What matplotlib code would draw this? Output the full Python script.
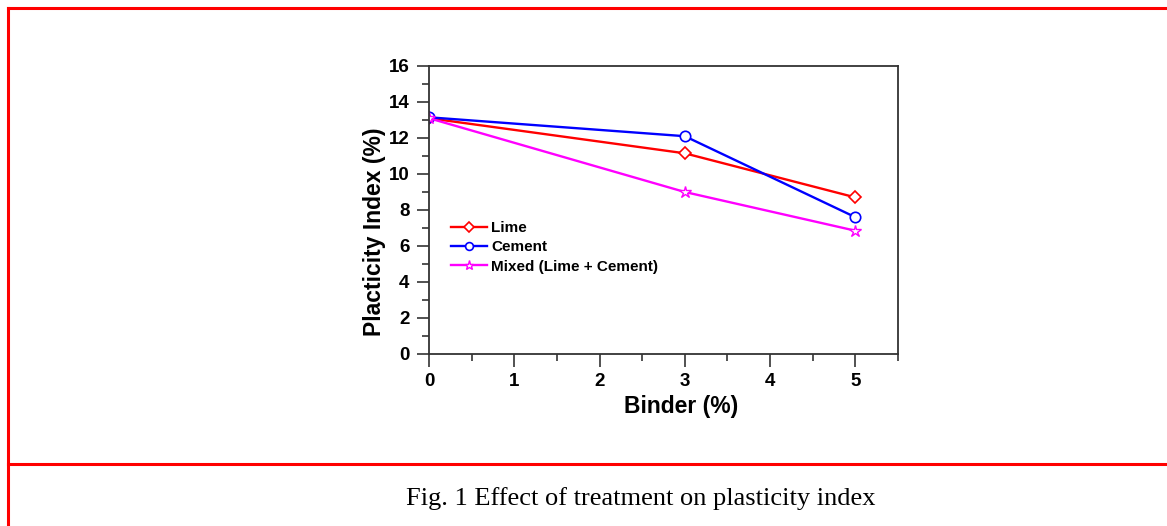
import matplotlib.pyplot as plt
from matplotlib.lines import Line2D
from matplotlib.ticker import MultipleLocator

binder = [0, 3, 5]
lime = [13.1, 11.15, 8.7]
cement = [13.15, 12.1, 7.6]
mixed = [13.1, 9.0, 6.85]
series_names = ["Lime", "Cement", "Mixed (Lime + Cement)"]
caption = "Fig. 1 Effect of treatment on plasticity index"

plt.rcParams["font.family"] = ["Liberation Sans", "DejaVu Sans"]
plt.rcParams["font.weight"] = "bold"

fig = plt.figure(figsize=(11.67, 5.26), dpi=100)

# red frame of the page
frame_kw = dict(color="#ff0000", lw=2.2, transform=fig.transFigure, clip_on=False)
fig.add_artist(Line2D([7.5 / 1167, 1.0], [1 - 7.5 / 526] * 2, **frame_kw))
fig.add_artist(Line2D([7.5 / 1167] * 2, [0.0, 1 - 7.5 / 526], **frame_kw))
fig.add_artist(Line2D([7.5 / 1167, 1.0], [1 - 464 / 526] * 2, **frame_kw))

ax = fig.add_axes([429 / 1167, 1 - 354 / 526, (898 - 429) / 1167, (354 - 66) / 526])

ax.plot(binder, lime, color="#ff0000", lw=1.7, marker="D", ms=6.5,
        mfc="white", mec="#ff0000", mew=1.2, label=series_names[0])
ax.plot(binder, cement, color="#0000ff", lw=1.7, marker="o", ms=7.5,
        mfc="white", mec="#0000ff", mew=1.2, label=series_names[1])
ax.plot(binder, mixed, color="#ff00ff", lw=1.7, marker="*", ms=9,
        mfc="white", mec="#ff00ff", mew=1.0, label=series_names[2])

ax.set_xlim(0, 5.5)
ax.set_ylim(0, 16)
ax.xaxis.set_major_locator(MultipleLocator(1))
ax.xaxis.set_minor_locator(MultipleLocator(0.5))
ax.yaxis.set_major_locator(MultipleLocator(2))
ax.yaxis.set_minor_locator(MultipleLocator(1))
ax.set_xticks([0, 1, 2, 3, 4, 5])

for s in ax.spines.values():
    s.set_color("#333333")
    s.set_linewidth(1.3)
ax.tick_params(which="major", direction="out", length=9, width=1.2,
               color="#333333", labelsize=13.5, pad=5)
ax.tick_params(which="minor", direction="out", length=5, width=1.2,
               color="#333333")
for lab in ax.get_xticklabels() + ax.get_yticklabels():
    lab.set_fontweight("bold")

ax.set_xlabel("Binder (%)", fontsize=16.5, fontweight="bold")
ax.set_ylabel("Placticity Index (%)", fontsize=16.5, fontweight="bold")
ax.xaxis.set_label_coords(0.537, -0.143)
ax.yaxis.set_label_coords(-0.091, 0.424)

leg = ax.legend(loc="upper left", bbox_to_anchor=(0.033, 0.483), frameon=False,
                handlelength=2.4, handletextpad=0.25, labelspacing=0.35,
                borderaxespad=0, markerscale=0.75,
                prop={"weight": "bold", "size": 11})

fig.text(641 / 1167, 1 - 499 / 526, caption, ha="center", va="center",
         fontsize=19, family="Liberation Serif", fontweight="normal")

fig.savefig("out.png", dpi=100)
